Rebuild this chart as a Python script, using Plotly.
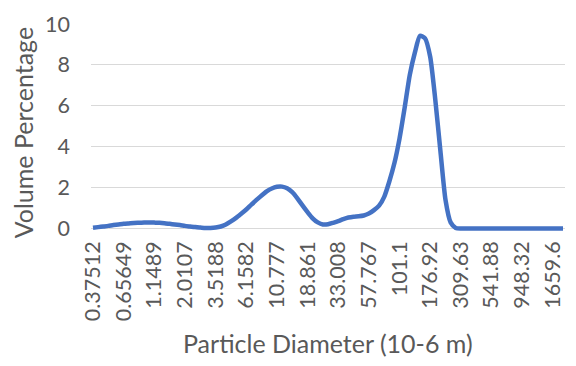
import plotly.graph_objects as go

# Particle diameter categories (10-6 m)
diameters = [
    "0.37512", "0.41179", "0.45205", "0.49624", "0.54475", "0.59800",
    "0.65649", "0.72067", "0.79112", "0.86846", "0.95336", "1.0465",
    "1.1489", "1.2612", "1.3845", "1.5199", "1.6684", "1.8315",
    "2.0107", "2.2073", "2.4230", "2.6599", "2.9199", "3.2054",
    "3.5188", "3.8628", "4.2404", "4.6549", "5.1100", "5.6095",
    "6.1582", "6.7602", "7.4210", "8.1465", "8.9429", "9.8172",
    "10.777", "11.831", "12.987", "14.257", "15.650", "17.180",
    "18.861", "20.705", "22.729", "24.951", "27.390", "30.068",
    "33.008", "36.235", "39.777", "43.665", "47.934", "52.620",
    "57.767", "63.414", "69.613", "76.419", "83.889", "92.090",
    "101.1", "110.98", "121.83", "133.74", "146.82", "161.17",
    "176.92", "194.21", "213.20", "234.04", "256.92", "282.04",
    "309.63", "339.90", "373.12", "409.60", "449.65", "493.60",
    "541.88", "594.85", "653.00", "716.84", "786.91", "863.84",
    "948.32", "1041.0", "1142.8", "1254.5", "1377.2", "1511.8",
    "1659.6", "1821.8", "1999.9",
]

volume_pct = [
    0.04, 0.07, 0.10, 0.13, 0.17, 0.20, 0.23, 0.25, 0.27, 0.28,
    0.29, 0.30, 0.29, 0.28, 0.26, 0.23, 0.20, 0.17, 0.13, 0.10,
    0.07, 0.05, 0.03, 0.03, 0.05, 0.10, 0.20, 0.35, 0.52, 0.72,
    0.93, 1.17, 1.40, 1.62, 1.82, 1.96, 2.04, 2.05, 1.97, 1.78,
    1.48, 1.13, 0.80, 0.50, 0.30, 0.20, 0.21, 0.28, 0.36, 0.46,
    0.54, 0.58, 0.60, 0.64, 0.73, 0.90, 1.12, 1.55, 2.30, 3.20,
    4.40, 5.90, 7.50, 8.60, 9.42, 9.30, 8.40, 6.30, 3.80, 1.40,
    0.30, 0.03, 0.00, 0.00, 0.00, 0.00, 0.00, 0.00, 0.00, 0.00,
    0.00, 0.00, 0.00, 0.00, 0.00, 0.00, 0.00, 0.00, 0.00, 0.00,
    0.00, 0.00, 0.00,
]

y_ticks = [0, 2, 4, 6, 8, 10]
label_step = 6
x_title = "Particle Diameter (10-6 m)"
y_title = "Volume Percentage"

W, H = 576, 366
pl, pr = 91, 565          # plot area left/right px
pt = 15                   # top px (value 10)
y_lo, y_hi = -0.12, 10
px_per_unit = 21.33
pb = pt + (y_hi - y_lo) * px_per_unit
ph = pb - pt
pw = pr - pl

text_col = "#595959"
font_fam = "Lato"
tick_size = 21.5
title_size = 25

fig = go.Figure()
fig.add_trace(go.Scatter(
    x=diameters, y=volume_pct, mode="lines",
    line=dict(color="#4472C4", width=4.5, shape="spline", smoothing=0.6),
    hoverinfo="x+y",
))

n = len(diameters)
pad = 0.39
fig.update_layout(
    width=W, height=H,
    margin=dict(l=pl, r=W - pr, t=pt, b=H - pb, pad=0),
    paper_bgcolor="white", plot_bgcolor="white",
    showlegend=False,
    font=dict(family=font_fam, color=text_col, size=tick_size),
    xaxis=dict(
        type="category",
        range=[-pad, n - 1 + pad],
        tickmode="array",
        tickvals=diameters[::label_step],
        ticktext=diameters[::label_step],
        tickangle=-90,
        showgrid=False, zeroline=False, showline=False,
        ticks="", ticklabelstandoff=5,
        tickfont=dict(family=font_fam, size=tick_size, color=text_col),
    ),
    yaxis=dict(
        range=[y_lo, y_hi],
        tickmode="array", tickvals=y_ticks,
        ticktext=[str(v) for v in y_ticks],
        showgrid=True, gridcolor="#D9D9D9", gridwidth=1.3,
        zeroline=False, showline=False,
        ticks="", ticklabelstandoff=20,
        tickfont=dict(family=font_fam, size=tick_size, color=text_col),
    ),
    annotations=[
        dict(text=x_title, xref="paper", yref="paper",
             x=(328 - pl) / pw, y=(pb - 348) / ph,
             xanchor="center", yanchor="middle", showarrow=False,
             font=dict(family=font_fam, size=title_size, color=text_col)),
        dict(text=y_title, xref="paper", yref="paper",
             x=(23 - pl) / pw, y=(pb - 129) / ph, textangle=-90,
             xanchor="center", yanchor="middle", showarrow=False,
             font=dict(family=font_fam, size=title_size, color=text_col)),
    ],
)

fig.write_html("out.html")
